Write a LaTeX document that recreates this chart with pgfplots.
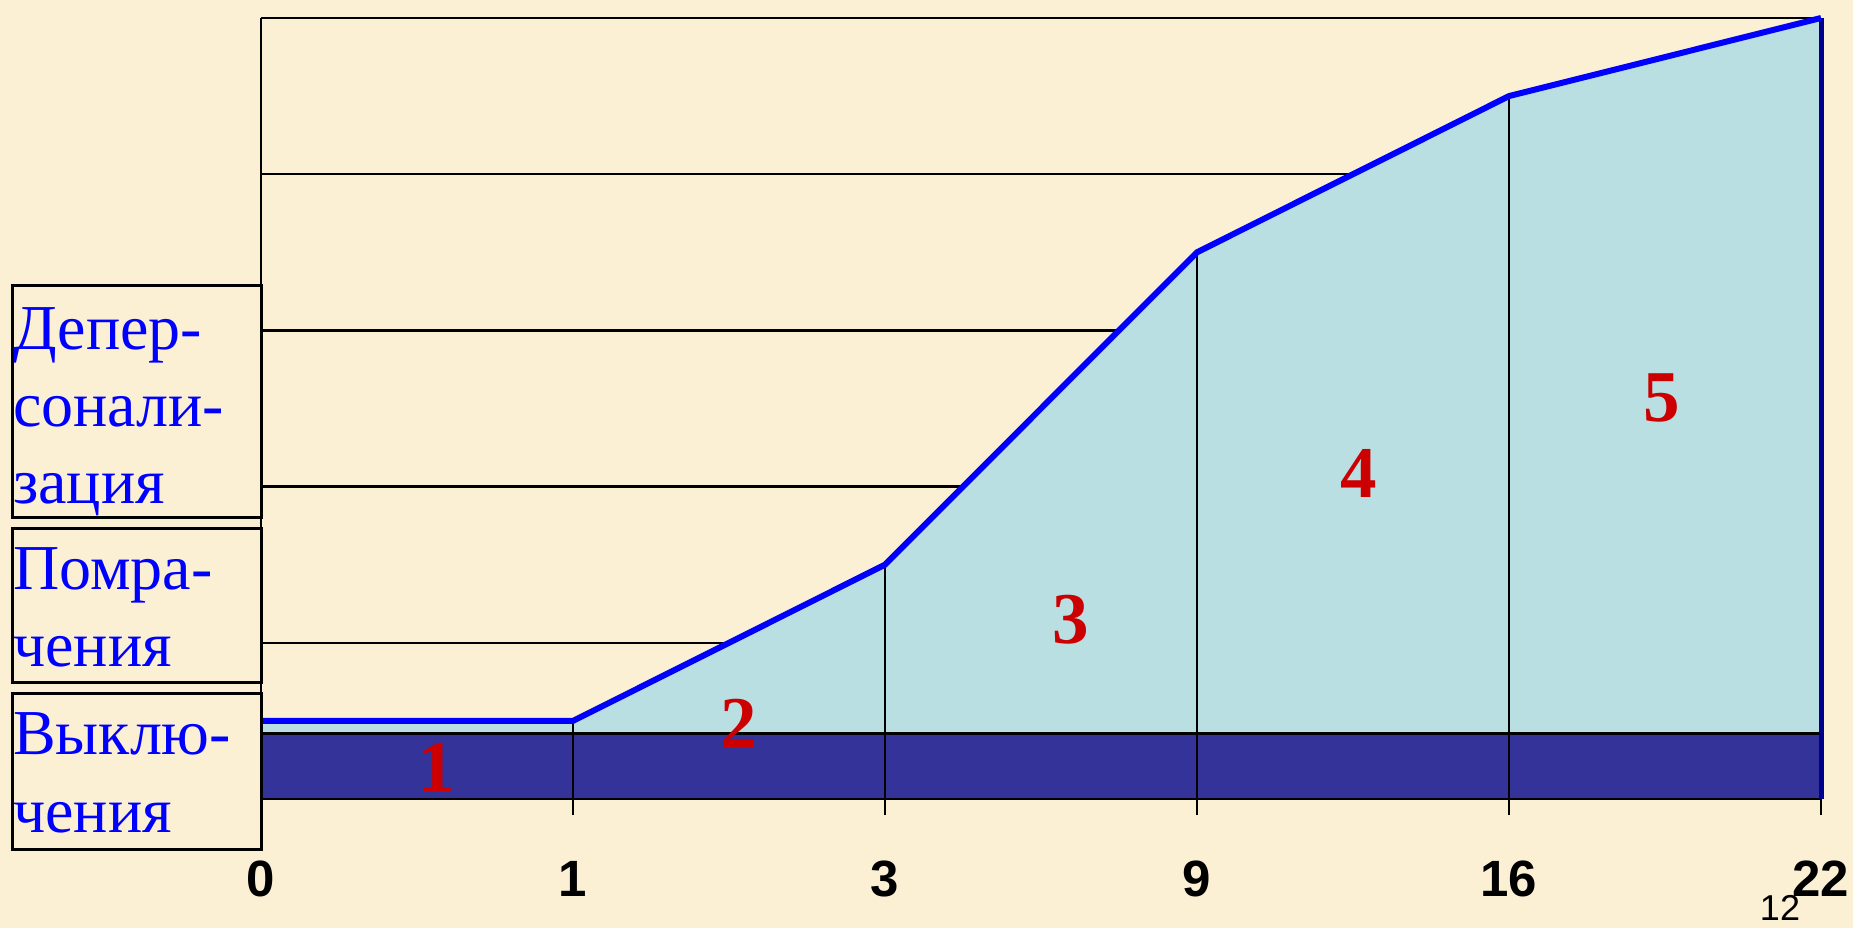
\documentclass[border=0pt]{standalone}
\usepackage{pgfplots}
\pgfplotsset{compat=1.18}
\usepackage{fontspec}
\setmainfont{Liberation Serif}
\newfontfamily\arialfont{Liberation Sans}
\definecolor{bg}{RGB}{251,239,212}
\definecolor{fillblue}{RGB}{186,223,226}
\definecolor{barblue}{RGB}{51,51,153}
\definecolor{lineblue}{RGB}{0,0,255}
\definecolor{navy}{RGB}{0,0,140}
\definecolor{numred}{RGB}{204,0,0}
\begin{document}
\begin{tikzpicture}
\fill[bg] (0,0) rectangle (1853pt,928pt);
\useasboundingbox (0,0) rectangle (1853pt,928pt);
\begin{axis}[
  at={(261pt,129pt)}, anchor=south west,
  scale only axis, width=1560pt, height=781pt,
  xmin=0, xmax=5, ymin=0, ymax=5,
  axis x line*=bottom, axis y line*=left,
  axis line style={line width=2.5pt, black, -},
  xtick={0,1,2,3,4,5}, xticklabels={0,1,3,9,16,22},
  tick align=outside, major tick length=16pt,
  xtick style={line width=2.5pt, black},
  ytick={1,2,3,4,5}, yticklabels={}, ytick style={draw=none},
  ymajorgrids, grid style={line width=2.5pt, black},
  xticklabel style={font=\arialfont\bfseries\fontsize{51}{51}\selectfont, inner sep=0pt, anchor=north},
  xticklabel shift=46pt,
  /pgf/number format/assume math mode=true,
  clip=false,
]
\addplot[fill=fillblue, draw=none] coordinates {(0,0.5)(1,0.5)(2,1.5)(3,3.5)(4,4.5)(5,5)} \closedcycle;
\addplot[fill=barblue, draw=black, line width=2.5pt] coordinates {(0,0.42)(5,0.42)} \closedcycle;
\addplot[ycomb, black, line width=2.5pt, mark=none] coordinates {(1,0.5)(2,1.5)(3,3.5)(4,4.5)};
\addplot[navy, line width=5pt] coordinates {(5,0)(5,5)};
\addplot[lineblue, line width=6pt, line join=round] coordinates {(0,0.5)(1,0.5)(2,1.5)(3,3.5)(4,4.5)(5,5)};
\node[text=numred, font=\bfseries\fontsize{73}{73}\selectfont, inner sep=0pt] at (axis cs:0.564,0.2) {1};
\node[text=numred, font=\bfseries\fontsize{73}{73}\selectfont, inner sep=0pt] at (axis cs:1.532,0.487) {2};
\node[text=numred, font=\bfseries\fontsize{73}{73}\selectfont, inner sep=0pt] at (axis cs:2.596,1.146) {3};
\node[text=numred, font=\bfseries\fontsize{73}{73}\selectfont, inner sep=0pt] at (axis cs:3.519,2.081) {4};
\node[text=numred, font=\bfseries\fontsize{73}{73}\selectfont, inner sep=0pt] at (axis cs:4.49,2.567) {5};
\end{axis}
\draw[line width=3pt] (12pt,642pt) rectangle (261pt,410pt);
\draw[line width=3pt] (12pt,399pt) rectangle (261pt,245pt);
\draw[line width=3pt] (12pt,234pt) rectangle (261pt,78pt);
\tikzset{lbl/.style={anchor=base west, inner sep=0pt, text=lineblue, font=\fontsize{64}{77}\selectfont}}
\node[lbl] at (13pt,578pt) {Депер-};
\node[lbl] at (13pt,501pt) {сонали-};
\node[lbl] at (13pt,424pt) {зация};
\node[lbl] at (13pt,338pt) {Помра-};
\node[lbl] at (13pt,261pt) {чения};
\node[lbl] at (13pt,173pt) {Выклю-};
\node[lbl] at (13pt,95pt) {чения};
\node[font=\arialfont\fontsize{36}{36}\selectfont, inner sep=0pt] at (1780pt,20pt) {12};
\end{tikzpicture}
\end{document}
